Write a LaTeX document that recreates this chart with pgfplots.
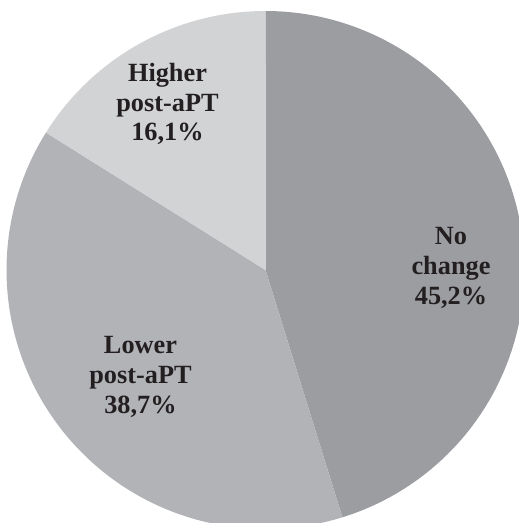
\documentclass[border=0pt]{standalone}
\usepackage{fontspec}
\setmainfont{Liberation Serif}
\usepackage{pgfplots}
\pgfplotsset{compat=1.18}
\usepackage{pgfplotstable}

\definecolor{slicedark}{HTML}{9C9DA1}
\definecolor{slicemid}{HTML}{B2B3B7}
\definecolor{slicelight}{HTML}{D2D3D5}
\definecolor{labeltext}{HTML}{231F20}

% shares in percent, clockwise from 12 o'clock
\pgfplotstableread[col sep=comma]{
share
45.2
38.7
16.1
}\piedata

\pgfplotstablegetelem{0}{share}\of\piedata \let\sa\pgfplotsretval
\pgfplotstablegetelem{1}{share}\of\piedata \let\sb\pgfplotsretval
\pgfplotstablegetelem{2}{share}\of\piedata \let\sc\pgfplotsretval

\pgfmathsetmacro{\aA}{90}
\pgfmathsetmacro{\aB}{90-3.6*\sa}
\pgfmathsetmacro{\aC}{\aB-3.6*\sb}
\pgfmathsetmacro{\aD}{\aC-3.6*\sc}
\def\R{259}

\begin{document}
\begin{tikzpicture}
\begin{axis}[
    scale only axis,
    width=5.19in, height=5.23in,
    xmin=-265.5, xmax=253.5,
    ymin=-253, ymax=270,
    hide axis,
    clip=true,
    samples=150,
    every axis plot/.append style={draw=none},
    ]
\addplot[fill=slicedark, domain=\aB:\aA] ({\R*cos(x)},{\R*sin(x)}) -- (0,0) -- cycle;
\addplot[fill=slicemid, domain=\aC:\aB] ({\R*cos(x)},{\R*sin(x)}) -- (0,0) -- cycle;
\addplot[fill=slicelight, domain=\aD:\aC] ({\R*cos(x)},{\R*sin(x)}) -- (0,0) -- cycle;

\coordinate (bl) at (axis cs:-265.5,-253);
\coordinate (tr) at (axis cs:253.5,270);

\begin{scope}[every node/.style={align=center, text=labeltext, inner sep=0pt,
    font=\fontsize{19}{21.6}\selectfont\bfseries}]
\node at (axis cs:185.5,2) {No\\change\\45,2\%};
\node at (axis cs:-125,-107) {Lower\\post-aPT\\38,7\%};
\node at (axis cs:-98,166) {Higher\\post-aPT\\16,1\%};
\end{scope}
\end{axis}
\pgfresetboundingbox
\path[use as bounding box] (bl) rectangle (tr);
\end{tikzpicture}
\end{document}
